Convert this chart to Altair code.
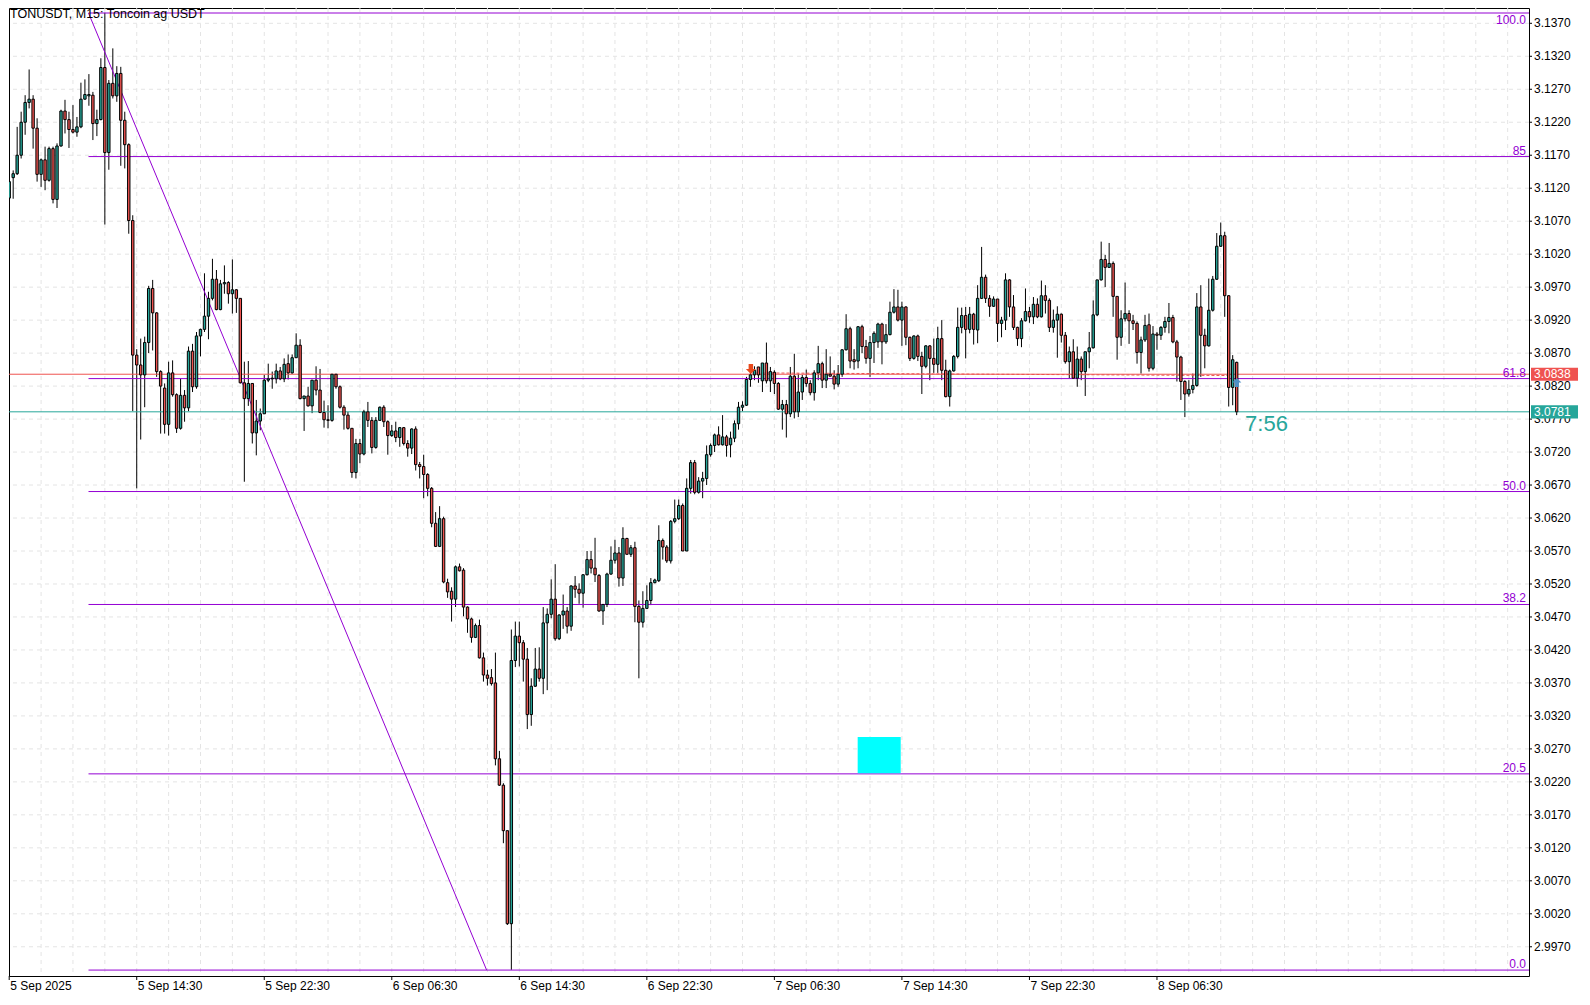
import altair as alt
import pandas as pd

# ---------------- data ----------------
opens = [
    3.1105, 3.1136, 3.1142, 3.1170, 3.1220, 3.1250, 3.1255, 3.1211, 3.1141, 3.1163,
    3.1132, 3.1180, 3.1103, 3.1184, 3.1237, 3.1224, 3.1209, 3.1205, 3.1213, 3.1255,
    3.1260, 3.1261, 3.1218, 3.1224, 3.1303, 3.1174, 3.1279, 3.1260, 3.1294, 3.1223,
    3.1186, 3.1071, 3.0867, 3.0852, 3.0837, 3.0886, 3.0968, 3.0931, 3.0842, 3.0817,
    3.0762, 3.0840, 3.0807, 3.0756, 3.0806, 3.0787, 3.0873, 3.0819, 3.0896, 3.0906,
    3.0926, 3.0953, 3.0982, 3.0936, 3.0975, 3.0977, 3.0960, 3.0966, 3.0953, 3.0825,
    3.0801, 3.0824, 3.0749, 3.0767, 3.0778, 3.0829, 3.0831, 3.0831, 3.0843, 3.0831,
    3.0854, 3.0840, 3.0863, 3.0882, 3.0801, 3.0805, 3.0790, 3.0829, 3.0814, 3.0780,
    3.0769, 3.0768, 3.0838, 3.0819, 3.0788, 3.0776, 3.0756, 3.0689, 3.0733, 3.0717,
    3.0781, 3.0768, 3.0727, 3.0768, 3.0788, 3.0766, 3.0745, 3.0752, 3.0742, 3.0757,
    3.0733, 3.0726, 3.0755, 3.0701, 3.0698, 3.0686, 3.0665, 3.0612, 3.0577, 3.0619,
    3.0522, 3.0509, 3.0497, 3.0546, 3.0541, 3.0485, 3.0467, 3.0439, 3.0457, 3.0408,
    3.0382, 3.0378, 3.0370, 3.0255, 3.0215, 3.0146, 3.0005, 3.0404, 3.0441, 3.0431,
    3.0406, 3.0322, 3.0365, 3.0391, 3.0377, 3.0461, 3.0474, 3.0497, 3.0437, 3.0473,
    3.0479, 3.0456, 3.0517, 3.0512, 3.0506, 3.0534, 3.0557, 3.0544, 3.0533, 3.0479,
    3.0489, 3.0535, 3.0556, 3.0567, 3.0529, 3.0589, 3.0565, 3.0575, 3.0486, 3.0462,
    3.0483, 3.0495, 3.0522, 3.0525, 3.0586, 3.0576, 3.0555, 3.0615, 3.0619, 3.0639,
    3.0570, 3.0665, 3.0704, 3.0659, 3.0676, 3.0680, 3.0716, 3.0730, 3.0746, 3.0731,
    3.0743, 3.0731, 3.0741, 3.0763, 3.0788, 3.0791, 3.0830, 3.0837, 3.0849, 3.0828,
    3.0855, 3.0828, 3.0841, 3.0824, 3.0785, 3.0792, 3.0778, 3.0835, 3.0781, 3.0811,
    3.0833, 3.0824, 3.0810, 3.0840, 3.0854, 3.0829, 3.0838, 3.0835, 3.0823, 3.0838,
    3.0875, 3.0907, 3.0860, 3.0858, 3.0910, 3.0880, 3.0862, 3.0886, 3.0887, 3.0914,
    3.0887, 3.0898, 3.0932, 3.0940, 3.0920, 3.0940, 3.0894, 3.0862, 3.0896, 3.0865,
    3.0850, 3.0881, 3.0862, 3.0853, 3.0892, 3.0844, 3.0804, 3.0843, 3.0865, 3.0909,
    3.0927, 3.0906, 3.0929, 3.0905, 3.0953, 3.0985, 3.0953, 3.0941, 3.0952, 3.0915,
    3.0920, 3.0981, 3.0940, 3.0909, 3.0892, 3.0919, 3.0933, 3.0925, 3.0944, 3.0925,
    3.0957, 3.0950, 3.0909, 3.0920, 3.0929, 3.0897, 3.0857, 3.0872, 3.0832, 3.0861,
    3.0842, 3.0872, 3.0878, 3.0928, 3.0981, 3.1012, 3.1000, 3.1006, 3.0956, 3.0894,
    3.0922, 3.0930, 3.0919, 3.0915, 3.0871, 3.0890, 3.0913, 3.0847, 3.0899, 3.0897,
    3.0909, 3.0918, 3.0924, 3.0887, 3.0864, 3.0827, 3.0808, 3.0815, 3.0821, 3.0940,
    3.0897, 3.0881, 3.0935, 3.0982, 3.1032, 3.1048, 3.0957, 3.0818, 3.0856,
]
highs = [
    3.1137, 3.1147, 3.1213, 3.1236, 3.1261, 3.1300, 3.1261, 3.1226, 3.1165, 3.1183,
    3.1183, 3.1183, 3.1188, 3.1239, 3.1254, 3.1236, 3.1246, 3.1228, 3.1280, 3.1285,
    3.1293, 3.1266, 3.1239, 3.1317, 3.1386, 3.1284, 3.1332, 3.1305, 3.1304, 3.1236,
    3.1188, 3.1079, 3.0876, 3.0892, 3.0895, 3.0972, 3.0981, 3.0932, 3.0844, 3.0824,
    3.0857, 3.0859, 3.0809, 3.0831, 3.0814, 3.0880, 3.0884, 3.0902, 3.0907, 3.0991,
    3.0963, 3.1013, 3.0996, 3.0981, 3.1003, 3.0979, 3.1012, 3.0967, 3.0953, 3.0857,
    3.0858, 3.0824, 3.0799, 3.0786, 3.0837, 3.0854, 3.0842, 3.0854, 3.0849, 3.0862,
    3.0868, 3.0868, 3.0900, 3.0891, 3.0805, 3.0819, 3.0829, 3.0850, 3.0846, 3.0798,
    3.0791, 3.0838, 3.0838, 3.0821, 3.0791, 3.0781, 3.0756, 3.0740, 3.0740, 3.0784,
    3.0796, 3.0773, 3.0773, 3.0789, 3.0791, 3.0768, 3.0761, 3.0766, 3.0758, 3.0758,
    3.0738, 3.0756, 3.0759, 3.0705, 3.0716, 3.0688, 3.0667, 3.0629, 3.0638, 3.0622,
    3.0528, 3.0515, 3.0548, 3.0551, 3.0544, 3.0486, 3.0469, 3.0460, 3.0466, 3.0416,
    3.0390, 3.0391, 3.0416, 3.0267, 3.0218, 3.0146, 3.0451, 3.0463, 3.0463, 3.0435,
    3.0423, 3.0377, 3.0423, 3.0424, 3.0485, 3.0483, 3.0527, 3.0550, 3.0474, 3.0504,
    3.0485, 3.0518, 3.0532, 3.0521, 3.0535, 3.0570, 3.0570, 3.0590, 3.0535, 3.0484,
    3.0537, 3.0577, 3.0587, 3.0576, 3.0606, 3.0590, 3.0579, 3.0584, 3.0495, 3.0509,
    3.0518, 3.0529, 3.0528, 3.0609, 3.0589, 3.0579, 3.0617, 3.0648, 3.0648, 3.0642,
    3.0680, 3.0708, 3.0708, 3.0682, 3.0690, 3.0730, 3.0733, 3.0748, 3.0759, 3.0776,
    3.0746, 3.0751, 3.0768, 3.0796, 3.0797, 3.0834, 3.0842, 3.0850, 3.0849, 3.0855,
    3.0886, 3.0849, 3.0844, 3.0826, 3.0799, 3.0799, 3.0849, 3.0869, 3.0839, 3.0837,
    3.0845, 3.0829, 3.0844, 3.0881, 3.0857, 3.0876, 3.0865, 3.0844, 3.0852, 3.0876,
    3.0929, 3.0910, 3.0876, 3.0911, 3.0913, 3.0890, 3.0896, 3.0903, 3.0916, 3.0916,
    3.0914, 3.0948, 3.0967, 3.0966, 3.0948, 3.0941, 3.0895, 3.0897, 3.0898, 3.0872,
    3.0882, 3.0882, 3.0892, 3.0910, 3.0920, 3.0860, 3.0845, 3.0867, 3.0939, 3.0939,
    3.0940, 3.0940, 3.0931, 3.0973, 3.1031, 3.0989, 3.0958, 3.0956, 3.0952, 3.0925,
    3.0991, 3.0982, 3.0958, 3.0910, 3.0923, 3.0968, 3.0940, 3.0955, 3.0953, 3.0980,
    3.0973, 3.0953, 3.0936, 3.0941, 3.0930, 3.0902, 3.0880, 3.0891, 3.0880, 3.0865,
    3.0872, 3.0902, 3.0950, 3.0981, 3.1039, 3.1019, 3.1037, 3.1009, 3.0956, 3.0935,
    3.0977, 3.0935, 3.0928, 3.0918, 3.0895, 3.0928, 3.0930, 3.0911, 3.0902, 3.0911,
    3.0925, 3.0946, 3.0928, 3.0890, 3.0866, 3.0829, 3.0829, 3.0839, 3.0961, 3.0973,
    3.0907, 3.0983, 3.0987, 3.1052, 3.1068, 3.1054, 3.0958, 3.0867, 3.0857,
]
lows = [
    3.1077, 3.1104, 3.1140, 3.1165, 3.1201, 3.1241, 3.1180, 3.1130, 3.1122, 3.1117,
    3.1130, 3.1097, 3.1090, 3.1183, 3.1203, 3.1181, 3.1203, 3.1198, 3.1211, 3.1254,
    3.1245, 3.1193, 3.1199, 3.1223, 3.1065, 3.1148, 3.1256, 3.1251, 3.1154, 3.1150,
    3.1051, 3.0782, 3.0665, 3.0739, 3.0788, 3.0870, 3.0874, 3.0834, 3.0748, 3.0748,
    3.0745, 3.0804, 3.0749, 3.0754, 3.0766, 3.0782, 3.0811, 3.0816, 3.0865, 3.0902,
    3.0891, 3.0950, 3.0935, 3.0935, 3.0960, 3.0945, 3.0930, 3.0931, 3.0824, 3.0675,
    3.0790, 3.0733, 3.0715, 3.0753, 3.0778, 3.0826, 3.0816, 3.0824, 3.0829, 3.0826,
    3.0830, 3.0839, 3.0863, 3.0800, 3.0752, 3.0789, 3.0779, 3.0806, 3.0779, 3.0757,
    3.0756, 3.0766, 3.0816, 3.0786, 3.0754, 3.0754, 3.0681, 3.0680, 3.0703, 3.0715,
    3.0758, 3.0718, 3.0725, 3.0768, 3.0758, 3.0716, 3.0743, 3.0735, 3.0728, 3.0730,
    3.0713, 3.0717, 3.0692, 3.0680, 3.0650, 3.0653, 3.0606, 3.0576, 3.0576, 3.0521,
    3.0499, 3.0463, 3.0485, 3.0539, 3.0471, 3.0446, 3.0431, 3.0438, 3.0407, 3.0372,
    3.0366, 3.0366, 3.0245, 3.0214, 3.0127, 3.0003, 2.9935, 3.0394, 3.0395, 3.0372,
    3.0300, 3.0305, 3.0364, 3.0372, 3.0353, 3.0359, 3.0468, 3.0434, 3.0435, 3.0452,
    3.0445, 3.0449, 3.0499, 3.0490, 3.0484, 3.0533, 3.0536, 3.0523, 3.0478, 3.0458,
    3.0485, 3.0534, 3.0551, 3.0516, 3.0517, 3.0565, 3.0561, 3.0462, 3.0377, 3.0454,
    3.0483, 3.0488, 3.0521, 3.0523, 3.0557, 3.0552, 3.0551, 3.0612, 3.0617, 3.0570,
    3.0570, 3.0657, 3.0656, 3.0657, 3.0650, 3.0670, 3.0713, 3.0720, 3.0730, 3.0730,
    3.0713, 3.0712, 3.0735, 3.0754, 3.0782, 3.0790, 3.0819, 3.0829, 3.0825, 3.0811,
    3.0824, 3.0811, 3.0808, 3.0784, 3.0754, 3.0742, 3.0773, 3.0771, 3.0773, 3.0799,
    3.0819, 3.0806, 3.0798, 3.0829, 3.0817, 3.0817, 3.0835, 3.0815, 3.0819, 3.0834,
    3.0874, 3.0847, 3.0845, 3.0847, 3.0870, 3.0854, 3.0834, 3.0855, 3.0878, 3.0853,
    3.0884, 3.0897, 3.0930, 3.0918, 3.0881, 3.0882, 3.0858, 3.0860, 3.0858, 3.0808,
    3.0847, 3.0829, 3.0840, 3.0840, 3.0829, 3.0803, 3.0789, 3.0842, 3.0862, 3.0900,
    3.0862, 3.0900, 3.0883, 3.0885, 3.0952, 3.0946, 3.0925, 3.0940, 3.0887, 3.0894,
    3.0905, 3.0925, 3.0905, 3.0881, 3.0879, 3.0918, 3.0916, 3.0914, 3.0923, 3.0924,
    3.0930, 3.0902, 3.0901, 3.0863, 3.0886, 3.0854, 3.0832, 3.0831, 3.0819, 3.0829,
    3.0805, 3.0847, 3.0877, 3.0926, 3.0980, 3.0970, 3.0999, 3.0925, 3.0860, 3.0881,
    3.0918, 3.0884, 3.0905, 3.0854, 3.0839, 3.0887, 3.0842, 3.0844, 3.0875, 3.0890,
    3.0901, 3.0900, 3.0885, 3.0827, 3.0799, 3.0773, 3.0804, 3.0809, 3.0819, 3.0834,
    3.0847, 3.0880, 3.0933, 3.0981, 3.1031, 3.0925, 3.0789, 3.0791, 3.0776,
]
closes = [
    3.1130, 3.1142, 3.1170, 3.1220, 3.1250, 3.1255, 3.1211, 3.1141, 3.1163, 3.1132,
    3.1180, 3.1103, 3.1184, 3.1237, 3.1224, 3.1209, 3.1205, 3.1213, 3.1255, 3.1262,
    3.1262, 3.1218, 3.1224, 3.1303, 3.1174, 3.1279, 3.1260, 3.1294, 3.1223, 3.1186,
    3.1071, 3.0867, 3.0852, 3.0837, 3.0886, 3.0968, 3.0931, 3.0842, 3.0820, 3.0762,
    3.0840, 3.0807, 3.0756, 3.0806, 3.0787, 3.0873, 3.0819, 3.0896, 3.0906, 3.0926,
    3.0953, 3.0982, 3.0936, 3.0975, 3.0977, 3.0960, 3.0966, 3.0953, 3.0825, 3.0801,
    3.0824, 3.0749, 3.0767, 3.0778, 3.0829, 3.0831, 3.0832, 3.0843, 3.0831, 3.0853,
    3.0840, 3.0863, 3.0882, 3.0801, 3.0805, 3.0790, 3.0829, 3.0814, 3.0780, 3.0769,
    3.0768, 3.0838, 3.0819, 3.0788, 3.0776, 3.0756, 3.0689, 3.0733, 3.0717, 3.0781,
    3.0768, 3.0727, 3.0768, 3.0788, 3.0766, 3.0745, 3.0752, 3.0742, 3.0757, 3.0733,
    3.0726, 3.0755, 3.0701, 3.0698, 3.0686, 3.0665, 3.0612, 3.0577, 3.0619, 3.0523,
    3.0508, 3.0497, 3.0546, 3.0540, 3.0485, 3.0467, 3.0439, 3.0457, 3.0408, 3.0382,
    3.0377, 3.0369, 3.0255, 3.0215, 3.0146, 3.0005, 3.0404, 3.0441, 3.0431, 3.0406,
    3.0322, 3.0365, 3.0391, 3.0377, 3.0461, 3.0474, 3.0497, 3.0437, 3.0473, 3.0479,
    3.0456, 3.0517, 3.0512, 3.0506, 3.0534, 3.0557, 3.0544, 3.0534, 3.0479, 3.0489,
    3.0535, 3.0556, 3.0567, 3.0529, 3.0589, 3.0565, 3.0575, 3.0486, 3.0462, 3.0483,
    3.0495, 3.0522, 3.0526, 3.0586, 3.0576, 3.0555, 3.0615, 3.0619, 3.0639, 3.0570,
    3.0665, 3.0704, 3.0659, 3.0676, 3.0680, 3.0716, 3.0730, 3.0746, 3.0731, 3.0743,
    3.0730, 3.0741, 3.0763, 3.0788, 3.0791, 3.0830, 3.0837, 3.0844, 3.0837, 3.0855,
    3.0828, 3.0842, 3.0824, 3.0785, 3.0792, 3.0778, 3.0835, 3.0781, 3.0811, 3.0833,
    3.0824, 3.0810, 3.0840, 3.0854, 3.0829, 3.0838, 3.0835, 3.0823, 3.0838, 3.0875,
    3.0907, 3.0858, 3.0857, 3.0910, 3.0880, 3.0862, 3.0886, 3.0900, 3.0914, 3.0887,
    3.0898, 3.0932, 3.0940, 3.0920, 3.0940, 3.0894, 3.0862, 3.0896, 3.0865, 3.0850,
    3.0881, 3.0862, 3.0853, 3.0892, 3.0844, 3.0804, 3.0843, 3.0865, 3.0909, 3.0927,
    3.0906, 3.0929, 3.0906, 3.0953, 3.0985, 3.0953, 3.0941, 3.0952, 3.0915, 3.0920,
    3.0981, 3.0940, 3.0909, 3.0892, 3.0919, 3.0933, 3.0925, 3.0944, 3.0925, 3.0957,
    3.0950, 3.0909, 3.0920, 3.0929, 3.0897, 3.0857, 3.0872, 3.0832, 3.0861, 3.0842,
    3.0872, 3.0878, 3.0928, 3.0981, 3.1012, 3.1000, 3.1006, 3.0956, 3.0894, 3.0922,
    3.0930, 3.0919, 3.0915, 3.0871, 3.0890, 3.0912, 3.0847, 3.0899, 3.0897, 3.0909,
    3.0918, 3.0924, 3.0887, 3.0864, 3.0827, 3.0808, 3.0815, 3.0821, 3.0940, 3.0897,
    3.0881, 3.0935, 3.0982, 3.1032, 3.1048, 3.0957, 3.0818, 3.0860, 3.0781,
]

time_tick_bars = [0, 32, 64, 96, 128, 160, 192, 224, 256, 288]
time_tick_labels = ["5 Sep 2025", "5 Sep 14:30", "5 Sep 22:30", "6 Sep 06:30",
                    "6 Sep 14:30", "6 Sep 22:30", "7 Sep 06:30", "7 Sep 14:30",
                    "7 Sep 22:30", "8 Sep 06:30"]
price_ticks = [2.9970, 3.0020, 3.0070, 3.0120, 3.0170, 3.0220, 3.0270, 3.0320,
               3.0370, 3.0420, 3.0470, 3.0520, 3.0570, 3.0620, 3.0670, 3.0720,
               3.0770, 3.0820, 3.0870, 3.0920, 3.0970, 3.1020, 3.1070, 3.1120,
               3.1170, 3.1220, 3.1270, 3.1320, 3.1370]
grid_bars = list(range(8, 384, 8))

fib_high = 3.13856
fib_low = 2.99347
fib_start_bar = 19.9
fib_levels = [100.0, 85.0, 61.8, 50.0, 38.2, 20.5, 0.0]
fib_texts = ["100.0", "85", "61.8", "50.0", "38.2", "20.5", "0.0"]
trend_bars = [19.9, 119.8]
trend_prices = [3.13856, 2.99347]

marker_prices = [3.0838, 3.0781]
marker_texts = ["3.0838", "3.0781"]
trade_bars = [187.5, 306.5]
trade_prices = [3.0840, 3.0836]
entry_bar, entry_price = 186.1, 3.08459
exit_bar, exit_price = 308.05, 3.08254
box_bars = [212.9, 223.7]
box_prices = [3.0233, 3.0288]
timer_bar, timer_price, timer_text = 310.1, 3.07519, "7:56"
title_text = "TONUSDT, M15:  Toncoin ag USDT"

# ---------------- styling ----------------
GREEN = "#26A69A"
RED = "#EF5350"
PURPLE = "#9400D3"
GRID = "#E4E4E4"
FONT = "Liberation Sans"
W, H = 1520, 968

xs = alt.Scale(domain=[-0.05, 381.35], nice=False, zero=False)
ys = alt.Scale(domain=[2.99257, 3.13932], nice=False, zero=False)

df = pd.DataFrame({"i": list(range(len(opens))), "open": opens, "high": highs,
                   "low": lows, "close": closes})
df["dir"] = ["up" if c >= o else "down" for o, c in zip(opens, closes)]

# ---------------- axes (drawn with the chart's own scales) ----------------
yt_df = pd.DataFrame({"p": price_ticks, "t": [f"{p:.4f}" for p in price_ticks]})
xt_df = pd.DataFrame({"b": time_tick_bars, "t": time_tick_labels})

y_ticks = alt.Chart(yt_df).mark_rule(color="black", strokeWidth=1).encode(
    x=alt.value(W), x2=alt.value(W + 3), y=alt.Y("p:Q", scale=ys, axis=None))
y_labels = alt.Chart(yt_df).mark_text(
    font=FONT, fontSize=12, color="black", align="left", baseline="middle").encode(
    x=alt.value(W + 5), y=alt.Y("p:Q", scale=ys, axis=None), text="t:N")
x_ticks = alt.Chart(xt_df).mark_rule(color="black", strokeWidth=1).encode(
    x=alt.X("b:Q", scale=xs, axis=None), y=alt.value(H), y2=alt.value(H + 4))
x_labels = alt.Chart(xt_df).mark_text(
    font=FONT, fontSize=12, color="black", align="left", baseline="top", dx=1).encode(
    x=alt.X("b:Q", scale=xs, axis=None), y=alt.value(H + 5), text="t:N")

# grid
vgrid = alt.Chart(pd.DataFrame({"g": grid_bars})).mark_rule(
    color=GRID, strokeDash=[4, 4], strokeWidth=1, clip=True).encode(
    x=alt.X("g:Q", scale=xs, axis=None))
hgrid = alt.Chart(pd.DataFrame({"p": price_ticks})).mark_rule(
    color=GRID, strokeDash=[4, 4], strokeWidth=1, clip=True).encode(
    y=alt.Y("p:Q", scale=ys, axis=None))

# fib
fib_df = pd.DataFrame({"lvl": fib_levels, "txt": fib_texts})
fib_df["price"] = fib_low + fib_df["lvl"] / 100.0 * (fib_high - fib_low)
fib_df["x0"] = fib_start_bar
fib_lines = alt.Chart(fib_df).mark_rule(color=PURPLE, strokeWidth=1, clip=True).encode(
    x=alt.X("x0:Q", scale=xs, axis=None), x2=alt.value(W),
    y=alt.Y("price:Q", scale=ys, axis=None))
fib_labels = alt.Chart(fib_df[fib_df["lvl"] < 100]).mark_text(
    color=PURPLE, font=FONT, fontSize=12, align="right", baseline="alphabetic", dy=-2).encode(
    x=alt.value(W - 3), y=alt.Y("price:Q", scale=ys, axis=None), text="txt:N")
fib_top_label = alt.Chart(fib_df[fib_df["lvl"] >= 100]).mark_text(
    color=PURPLE, font=FONT, fontSize=12, align="right", baseline="top", dy=2).encode(
    x=alt.value(W - 3), y=alt.Y("price:Q", scale=ys, axis=None), text="txt:N")

trend_df = pd.DataFrame({"x": [trend_bars[0]], "x2": [trend_bars[1]],
                         "y": [trend_prices[0]], "y2": [trend_prices[1]]})
trend = alt.Chart(trend_df).mark_rule(color=PURPLE, strokeWidth=1, clip=True).encode(
    x=alt.X("x:Q", scale=xs, axis=None), x2="x2:Q",
    y=alt.Y("y:Q", scale=ys, axis=None), y2="y2:Q")

# price lines
mk_df = pd.DataFrame({"p": marker_prices, "t": marker_texts, "c": [RED, GREEN]})
price_lines = alt.Chart(mk_df).mark_rule(strokeWidth=1, clip=True).encode(
    y=alt.Y("p:Q", scale=ys, axis=None), color=alt.Color("c:N", scale=None))

trade_df = pd.DataFrame({"x": [trade_bars[0]], "x2": [trade_bars[1]],
                         "y": [trade_prices[0]], "y2": [trade_prices[1]]})
trade = alt.Chart(trade_df).mark_rule(color=RED, strokeWidth=1, strokeDash=[3, 2]).encode(
    x=alt.X("x:Q", scale=xs, axis=None), x2="x2:Q",
    y=alt.Y("y:Q", scale=ys, axis=None), y2="y2:Q")

# cyan rectangle
box_df = pd.DataFrame({"x": [box_bars[0]], "x2": [box_bars[1]],
                       "y": [box_prices[0]], "y2": [box_prices[1]]})
box = alt.Chart(box_df).mark_rect(color="#00FFFF").encode(
    x=alt.X("x:Q", scale=xs, axis=None), x2="x2:Q",
    y=alt.Y("y:Q", scale=ys, axis=None), y2="y2:Q")

# candles
base = alt.Chart(df)
wicks = base.mark_rule(color="black", strokeWidth=1, clip=True).encode(
    x=alt.X("i:Q", scale=xs, axis=None),
    y=alt.Y("low:Q", scale=ys, axis=None), y2="high:Q")
bodies = base.transform_calculate(
    xa="datum.i - 0.3", xb="datum.i + 0.3",
    top="max(datum.open, datum.close)", bot="min(datum.open, datum.close)"
).mark_rect(stroke="black", strokeWidth=1, clip=True).encode(
    x=alt.X("xa:Q", scale=xs, axis=None), x2="xb:Q",
    y=alt.Y("top:Q", scale=ys, axis=None), y2="bot:Q",
    fill=alt.Fill("dir:N", scale=alt.Scale(domain=["up", "down"], range=[GREEN, RED]),
                  legend=None))

# trade arrows
down_arrow = "M-0.45,-1 L0.45,-1 L0.45,0 L1,0 L0,1 L-1,0 L-0.45,0 Z"
up_arrow = "M-0.45,1 L0.45,1 L0.45,0 L1,0 L0,-1 L-1,0 L-0.45,0 Z"
entry = alt.Chart(pd.DataFrame({"x": [entry_bar], "y": [entry_price]})).mark_point(
    shape=down_arrow, size=100, filled=True, color="#E8491D", opacity=1).encode(
    x=alt.X("x:Q", scale=xs, axis=None), y=alt.Y("y:Q", scale=ys, axis=None))
exit_m = alt.Chart(pd.DataFrame({"x": [exit_bar], "y": [exit_price]})).mark_point(
    shape=up_arrow, size=81, filled=True, color="#4F8FC4", opacity=1).encode(
    x=alt.X("x:Q", scale=xs, axis=None), y=alt.Y("y:Q", scale=ys, axis=None))

# right-side price boxes
rect_path = "M-1,-0.28 L1,-0.28 L1,0.28 L-1,0.28 Z"
boxes = alt.Chart(mk_df).mark_point(shape=rect_path, size=2209, filled=True, opacity=1).encode(
    x=alt.value(W + 25.5), y=alt.Y("p:Q", scale=ys, axis=None),
    color=alt.Color("c:N", scale=None))
box_text = alt.Chart(mk_df).mark_text(
    color="white", font=FONT, fontSize=12, align="left", baseline="middle").encode(
    x=alt.value(W + 5), y=alt.Y("p:Q", scale=ys, axis=None), text="t:N")

# timer and title
timer = alt.Chart(pd.DataFrame({"x": [timer_bar], "y": [timer_price], "t": [timer_text]})).mark_text(
    color=GREEN, font=FONT, fontSize=22, align="left", baseline="alphabetic").encode(
    x=alt.X("x:Q", scale=xs, axis=None), y=alt.Y("y:Q", scale=ys, axis=None), text="t:N")
title = alt.Chart(pd.DataFrame({"t": [title_text]})).mark_text(
    color="black", font=FONT, fontSize=12.5, align="left", baseline="alphabetic").encode(
    x=alt.value(1), y=alt.value(10), text="t:N")

chart = alt.layer(
    vgrid, hgrid, wicks, price_lines, fib_lines, trend, box, trade, bodies,
    fib_labels, fib_top_label, entry, exit_m, timer, title,
    y_ticks, y_labels, x_ticks, x_labels, boxes, box_text
).properties(
    width=W, height=H,
    padding=0,
).configure_view(
    stroke="black", strokeWidth=1
)

chart.save("out.html", embed_options={"renderer": "svg", "actions": False})
